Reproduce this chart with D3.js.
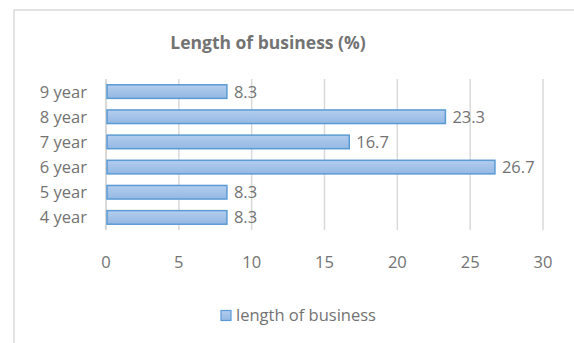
<!DOCTYPE html>
<html>
<head>
<meta charset="utf-8">
<script src="https://cdn.jsdelivr.net/npm/d3@7"></script>
<style>
  body { margin: 0; background: #fff; }
  text { font-family: "Open Sans", "Liberation Sans", sans-serif; fill: #737373; }
</style>
</head>
<body>
<div id="chart"></div>
<script>
// data
const categories = ["4 year", "5 year", "6 year", "7 year", "8 year", "9 year"];
const values = [8.3, 8.3, 26.7, 16.7, 23.3, 8.3];
const xTicks = [0, 5, 10, 15, 20, 25, 30];
const seriesName = "length of business";
const titleText = "Length of business (%)";

const W = 574, H = 343;

const svg = d3.select("#chart").append("svg")
    .attr("width", W)
    .attr("height", H);

// chart frame
svg.append("rect")
    .attr("x", 14).attr("y", 10)
    .attr("width", W + 10).attr("height", H + 10)
    .attr("fill", "none")
    .attr("stroke", "#d9d9d9")
    .attr("stroke-width", 1.5);

const defs = svg.append("defs");
const grad = defs.append("linearGradient")
    .attr("id", "barGrad")
    .attr("x1", 0).attr("y1", 0).attr("x2", 0).attr("y2", 1);
grad.append("stop").attr("offset", "0%").attr("stop-color", "#b3cdee");
grad.append("stop").attr("offset", "100%").attr("stop-color", "#94b8e3");

const x = d3.scaleLinear().domain([0, 30]).range([106, 543]);
const y = d3.scaleBand()
    .domain(categories.slice().reverse())
    .range([79, 230])
    .paddingInner(0.46)
    .paddingOuter(0.23);

const fs = "16.5px";

// gridlines
svg.append("g")
    .selectAll("line")
    .data(xTicks)
    .join("line")
    .attr("x1", d => x(d)).attr("x2", d => x(d))
    .attr("y1", 79).attr("y2", 230)
    .attr("stroke", "#d9d9d9")
    .attr("stroke-width", d => d === 0 ? 2 : 1.5);

// x tick labels
svg.append("g")
    .selectAll("text")
    .data(xTicks)
    .join("text")
    .attr("x", d => x(d))
    .attr("y", 268)
    .attr("text-anchor", "middle")
    .style("font-size", fs)
    .text(d => d);

// category labels
svg.append("g")
    .selectAll("text")
    .data(categories)
    .join("text")
    .attr("x", 87)
    .attr("y", d => y(d) + y.bandwidth() / 2 + 6)
    .attr("text-anchor", "end")
    .style("font-size", fs)
    .text(d => d);

const rows = categories.map((c, i) => ({cat: c, val: values[i]}));

// bars
svg.append("g")
    .selectAll("rect")
    .data(rows)
    .join("rect")
    .attr("x", x(0) + 1)
    .attr("y", d => y(d.cat))
    .attr("width", d => x(d.val) - x(0) - 1)
    .attr("height", y.bandwidth())
    .attr("fill", "url(#barGrad)")
    .attr("stroke", "#5b9bd5")
    .attr("stroke-width", 1.5);

// value labels
svg.append("g")
    .selectAll("text")
    .data(rows)
    .join("text")
    .attr("x", d => x(d.val) + 7)
    .attr("y", d => y(d.cat) + y.bandwidth() / 2 + 6)
    .style("font-size", fs)
    .text(d => d.val.toFixed(1));

// title
svg.append("text")
    .attr("x", 268)
    .attr("y", 49)
    .attr("text-anchor", "middle")
    .style("font-size", "17.5px")
    .style("font-weight", "bold")
    .text(titleText);

// legend
const legend = svg.append("g");
legend.append("rect")
    .attr("x", 221).attr("y", 310.5)
    .attr("width", 10).attr("height", 10)
    .attr("fill", "url(#barGrad)")
    .attr("stroke", "#5b9bd5")
    .attr("stroke-width", 1.2);
legend.append("text")
    .attr("x", 236)
    .attr("y", 321)
    .style("font-size", fs)
    .text(seriesName);
</script>
</body>
</html>
